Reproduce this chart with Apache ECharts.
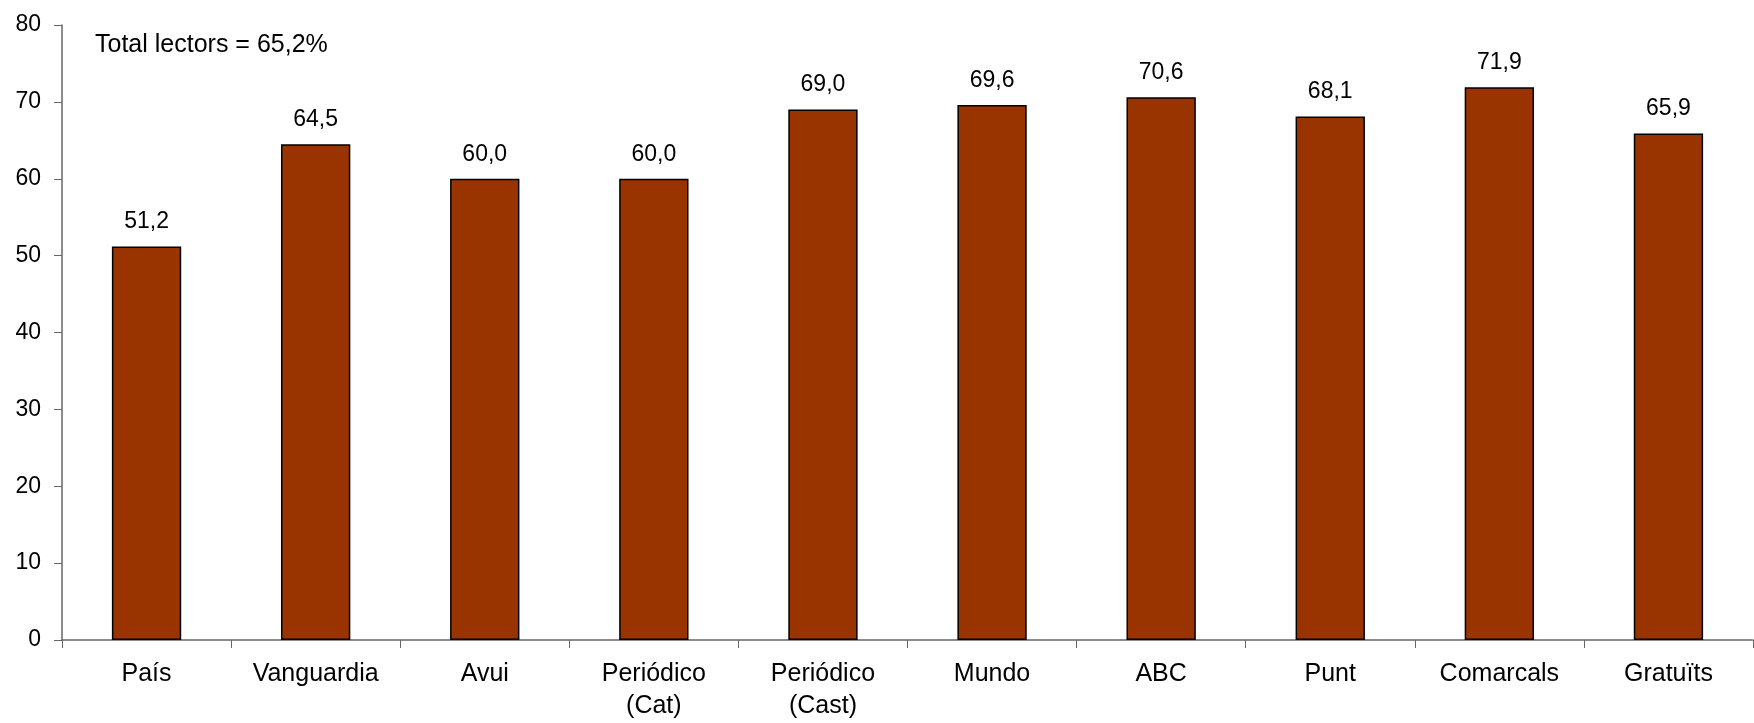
<!DOCTYPE html>
<html><head><meta charset="utf-8">
<script src="https://cdn.jsdelivr.net/npm/echarts@6/dist/echarts.min.js"></script>
<style>html,body{margin:0;padding:0;background:#fff}#c{width:1754px;height:723px}</style>
</head><body><div id="c"></div>
<script>
const categories = ['País','Vanguardia','Avui','Periódico\n(Cat)','Periódico\n(Cast)','Mundo','ABC','Punt','Comarcals','Gratuïts'];
const values = [51.2, 64.5, 60.0, 60.0, 69.0, 69.6, 70.6, 68.1, 71.9, 65.9];
const annotation = 'Total lectors = 65,2%';
const yMin = 0, yMax = 80, yStep = 10;

const font = 'Liberation Sans, Arial, sans-serif';
const chart = echarts.init(document.getElementById('c'), null, {renderer:'canvas'});
chart.setOption({
  animation:false,
  grid:{left:62, right:1, top:25, bottom:83, containLabel:false},
  graphic:[{type:'text', left:95, top:33, style:{text:annotation, font:'25px '+font, fill:'#000'}}],
  xAxis:{type:'category', data:categories, boundaryGap:true,
    axisLine:{lineStyle:{color:'#666', width:1.5}},
    axisTick:{show:true, length:8, lineStyle:{color:'#666'}},
    axisLabel:{color:'#000', fontSize:25, fontFamily:font, margin:18, lineHeight:32, interval:0}},
  yAxis:{type:'value', min:yMin, max:yMax, interval:yStep,
    splitLine:{show:false},
    axisLine:{show:true, lineStyle:{color:'#666', width:1.5}},
    axisTick:{show:true, length:8, inside:false, lineStyle:{color:'#666'}},
    axisLabel:{color:'#000', fontSize:23, fontFamily:font, margin:21}},
  series:[{type:'bar', data:values, barWidth:'41%',
    itemStyle:{color:'#993300', borderColor:'#000', borderWidth:1.5},
    label:{show:true, position:'top', distance:13, color:'#000', fontSize:23, fontFamily:font,
      formatter:p=>p.value.toFixed(1).replace('.',',')}}]
});
</script></body></html>
